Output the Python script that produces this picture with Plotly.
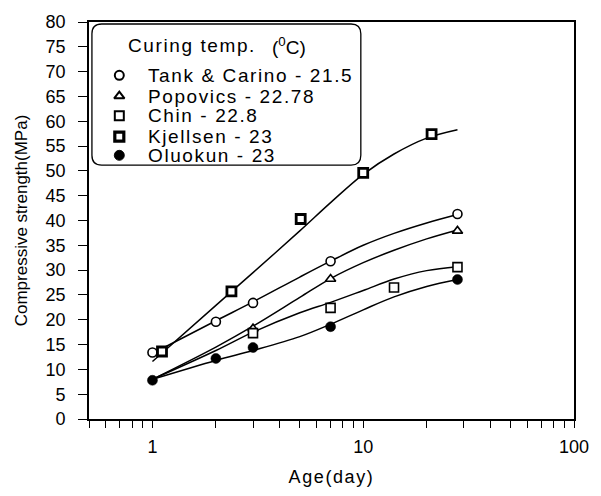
import plotly.graph_objects as go

# measured points (age in days, strength in MPa)
tank_x = [1, 2, 3, 7, 28]
tank_y = [13.4, 19.6, 23.4, 31.8, 41.3]
pop_x = [3, 7, 28]
pop_y = [18.2, 28.2, 37.9]
chin_x = [3, 7, 14, 28]
chin_y = [17.3, 22.4, 26.5, 30.6]
kj_x = [1.11, 2.37, 5.05, 10, 21.1]
kj_y = [13.6, 25.7, 40.3, 49.6, 57.4]
olu_x = [1, 2, 3, 7, 28]
olu_y = [7.8, 12.2, 14.4, 18.6, 28.1]

# fitted curves
curve_x = [1, 2, 3, 5, 7, 10, 14, 20, 28]
tank_fit = [13.2, 19.8, 23.6, 28.6, 31.8, 35.0, 37.4, 39.5, 41.2]
pop_fit = [8.0, 14.5, 18.7, 24.5, 28.3, 31.5, 34.0, 36.3, 38.1]
chin_fit = [8.0, 13.8, 17.5, 21.4, 23.5, 25.9, 28.2, 29.9, 30.7]
kj_fit = [11.6, 22.9, 29.5, 37.9, 43.6, 49.3, 53.4, 56.6, 58.3]
olu_fit = [8.0, 11.8, 13.8, 16.6, 19.1, 22.0, 24.6, 26.7, 28.1]

names = ["Tank & Carino - 21.5", "Popovics - 22.78", "Chin - 22.8",
         "Kjellsen - 23", "Oluokun - 23"]
legend_title = "Curing temp."
legend_unit = "(<sup>0</sup>C)"

x_tickvals = [0.5, 0.6, 0.7, 0.8, 0.9, 1, 2, 3, 4, 5, 6, 7, 8, 9, 10,
              20, 30, 40, 50, 60, 70, 80, 90, 100]
x_ticktext = ["1" if v == 1 else "10" if v == 10 else "100" if v == 100 else ""
              for v in x_tickvals]
y_tickvals = list(range(0, 81, 5))

FONT = "Liberation Sans, Arial, sans-serif"
SP = '<span style="letter-spacing:1.6px">{}</span>'

fig = go.Figure()

for cy in [tank_fit, pop_fit, chin_fit, kj_fit, olu_fit]:
    fig.add_trace(go.Scatter(x=curve_x, y=cy, mode="lines", showlegend=False,
                             line=dict(color="black", width=1.5, shape="spline"),
                             hoverinfo="skip"))

marker_specs = [
    dict(symbol="circle", size=9, color="white", line=dict(color="black", width=1.6)),
    dict(symbol="triangle-up", size=9, color="white", line=dict(color="black", width=1.6)),
    dict(symbol="square", size=9, color="white", line=dict(color="black", width=1.6)),
    dict(symbol="square", size=9, color="white", line=dict(color="black", width=2.8)),
    dict(symbol="circle", size=10, color="black", line=dict(color="black", width=0.5)),
]
series = [(tank_x, tank_y), (pop_x, pop_y), (chin_x, chin_y), (kj_x, kj_y), (olu_x, olu_y)]
for (mx, my), mk, nm in zip(series, marker_specs, names):
    fig.add_trace(go.Scatter(x=mx, y=my, mode="markers", name=nm, marker=mk,
                             showlegend=False))

# ---- legend box drawn on an overlay axis measured in pixels ----
LEG_BOX = (92, 367, 20, 163)   # left, right, top, bottom
LEG_R = 10
LEG_SYM_X = 120
LEG_TXT_X = 147
LEG_ROW_Y = [72, 93, 113, 134, 153]
LEG_TITLE_Y = 42

x0, x1, yt, yb = LEG_BOX
r = LEG_R
path = (f"M {x0+r},{yt} L {x1-r},{yt} Q {x1},{yt} {x1},{yt+r} "
        f"L {x1},{yb-r} Q {x1},{yb} {x1-r},{yb} L {x0+r},{yb} "
        f"Q {x0},{yb} {x0},{yb-r} L {x0},{yt+r} Q {x0},{yt} {x0+r},{yt} Z")
fig.add_shape(type="path", path=path, xref="x2", yref="y2",
              line=dict(color="black", width=1.3), fillcolor="white", layer="below")

for mk, nm, ry in zip(marker_specs, names, LEG_ROW_Y):
    m = dict(mk)
    m["line"] = dict(color="black", width=mk["line"]["width"] + 0.4)
    fig.add_trace(go.Scatter(x=[LEG_SYM_X], y=[ry], xaxis="x2", yaxis="y2",
                             mode="markers", marker=m, showlegend=False,
                             hoverinfo="skip"))
    fig.add_annotation(x=LEG_TXT_X, y=ry, xref="x2", yref="y2", text=SP.format(nm),
                       showarrow=False, xanchor="left", yanchor="middle",
                       font=dict(family=FONT, size=19, color="black"))

fig.add_annotation(x=127, y=LEG_TITLE_Y, xref="x2", yref="y2",
                   text=SP.format(legend_title), showarrow=False,
                   xanchor="left", yanchor="middle",
                   font=dict(family=FONT, size=19, color="black"))
fig.add_annotation(x=274, y=LEG_TITLE_Y, xref="x2", yref="y2",
                   text=legend_unit, showarrow=False,
                   xanchor="left", yanchor="middle",
                   font=dict(family=FONT, size=19, color="black"))

fig.update_layout(
    width=601, height=496,
    margin=dict(l=89, r=16, t=18, b=76),
    paper_bgcolor="white", plot_bgcolor="white",
    font=dict(family=FONT, size=18, color="black"),
    showlegend=False,
    xaxis=dict(type="log", range=[-0.30103, 2], tickmode="array",
               tickvals=x_tickvals, ticktext=x_ticktext,
               ticks="outside", ticklen=7, tickwidth=1.3, tickcolor="black",
               showline=True, linecolor="black", linewidth=1.6, mirror=True,
               showgrid=False, zeroline=False, ticklabelstandoff=4,
               tickfont=dict(size=18),
               title=dict(text=SP.format("Age(day)"), font=dict(size=18), standoff=14)),
    yaxis=dict(range=[0, 80], tickmode="array", tickvals=y_tickvals,
               ticks="outside", ticklen=9, tickwidth=1.3, tickcolor="black",
               showline=True, linecolor="black", linewidth=1.6, mirror=True,
               showgrid=False, zeroline=False, ticklabelstandoff=9,
               tickfont=dict(size=18),
               title=dict(text="Compressive strength(MPa)", font=dict(size=17),
                          standoff=14)),
    xaxis2=dict(range=[89, 585], overlaying="x", visible=False, fixedrange=True),
    yaxis2=dict(range=[420, 18], overlaying="y", visible=False, fixedrange=True),
)

fig.write_html("out.html")
